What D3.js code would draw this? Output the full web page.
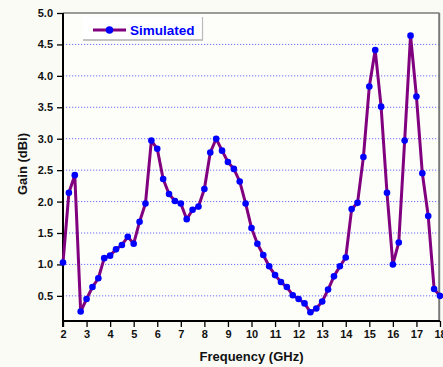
<!DOCTYPE html>
<html>
<head>
<meta charset="utf-8">
<script src="https://cdn.jsdelivr.net/npm/d3@7/dist/d3.min.js"></script>
<style>
  html, body { margin: 0; padding: 0; background: #fbfbf6; }
  svg { display: block; }
  text { font-family: Arial, "Liberation Sans", sans-serif; font-weight: bold; }
</style>
</head>
<body>
<svg id="chart" width="443" height="367"></svg>
<script>
// ---- data ----
const frequency = [2, 2.25, 2.5, 2.75, 3, 3.25, 3.5, 3.75, 4, 4.25, 4.5, 4.75, 5, 5.25, 5.5, 5.75,
  6, 6.25, 6.5, 6.75, 7, 7.25, 7.5, 7.75, 8, 8.25, 8.5, 8.75, 9, 9.25, 9.5, 9.75,
  10, 10.25, 10.5, 10.75, 11, 11.25, 11.5, 11.75, 12, 12.25, 12.5, 12.75, 13, 13.25, 13.5, 13.75,
  14, 14.25, 14.5, 14.75, 15, 15.25, 15.5, 15.75, 16, 16.25, 16.5, 16.75, 17, 17.25, 17.5, 17.75, 18];
const gainSimulated = [1.03, 2.14, 2.42, 0.25, 0.45, 0.64, 0.78, 1.10, 1.14, 1.24, 1.31, 1.44, 1.33, 1.68, 1.97, 2.97,
  2.84, 2.36, 2.12, 2.01, 1.97, 1.72, 1.87, 1.92, 2.20, 2.78, 3.00, 2.81, 2.63, 2.52, 2.32, 1.97,
  1.58, 1.33, 1.15, 0.97, 0.83, 0.72, 0.64, 0.51, 0.45, 0.38, 0.24, 0.30, 0.41, 0.60, 0.81, 0.97,
  1.11, 1.88, 1.98, 2.71, 3.83, 4.41, 3.51, 2.14, 1.00, 1.35, 2.97, 4.64, 3.67, 2.45, 1.77, 0.61, 0.50];
const xTicks = [2, 3, 4, 5, 6, 7, 8, 9, 10, 11, 12, 13, 14, 15, 16, 17, 18];
const yTicks = [0.5, 1.0, 1.5, 2.0, 2.5, 3.0, 3.5, 4.0, 4.5, 5.0];
const gridValues = [0.5, 1.0, 1.5, 2.0, 2.5, 3.0, 3.5, 4.0, 4.5];
const seriesName = "Simulated";
const xTitle = "Frequency (GHz)";
const yTitle = "Gain (dBi)";

// ---- layout ----
const pL = 63, pR = 440, pT = 13, pB = 321;
const svg = d3.select("#chart");

const x = d3.scaleLinear().domain([2, 18]).range([pL, pR]);
const y = d3.scaleLinear().domain([0.1, 5.0]).range([pB, pT]);

// plot background
svg.append("rect").attr("x", pL).attr("y", pT).attr("width", pR - pL).attr("height", pB - pT)
  .attr("fill", "#fdfdf9");

// grid
svg.append("g").selectAll("line").data(gridValues).join("line")
  .attr("x1", pL).attr("x2", pR - 1)
  .attr("y1", d => y(d)).attr("y2", d => y(d))
  .attr("stroke", "#4a4aff").attr("stroke-width", 1)
  .attr("stroke-dasharray", "1.2,1.8").attr("opacity", 0.8);

// frame top/right
svg.append("line").attr("x1", pL).attr("x2", pR - 0.5).attr("y1", pT).attr("y2", pT)
  .attr("stroke", "#7a7a7a").attr("stroke-width", 1.5);
svg.append("line").attr("x1", pR - 0.8).attr("x2", pR - 0.8).attr("y1", pT).attr("y2", pB)
  .attr("stroke", "#7a7a7a").attr("stroke-width", 2);

// axes
const xAxis = d3.axisBottom(x).tickValues(xTicks).tickFormat(d3.format("d")).tickSize(6).tickPadding(3);
const yAxis = d3.axisLeft(y).tickValues(yTicks).tickFormat(d3.format(".1f")).tickSize(6).tickPadding(4);

const gx = svg.append("g").attr("transform", `translate(0,${pB})`).call(xAxis);
const gy = svg.append("g").attr("transform", `translate(${pL},0)`).call(yAxis);
[gx, gy].forEach(g => {
  g.select(".domain").attr("stroke", "#000").attr("stroke-width", 2);
  g.selectAll(".tick line").attr("stroke", "#000").attr("stroke-width", 1.3);
  g.selectAll(".tick text").attr("fill", "#111").style("font-size", "11px")
    .style("font-family", "Arial, 'Liberation Sans', sans-serif").style("font-weight", "bold");
});
gx.select(".domain").attr("d", `M${pL},0H${pR}`);
gy.select(".domain").attr("d", `M0,${pB + 6}V${pT}`);

// line + markers
const line = d3.line().x((d, i) => x(frequency[i])).y(d => y(d));
svg.append("path").datum(gainSimulated).attr("d", line)
  .attr("fill", "none").attr("stroke", "#800080").attr("stroke-width", 3).attr("stroke-linejoin", "round");
svg.append("g").selectAll("circle").data(gainSimulated).join("circle")
  .attr("cx", (d, i) => x(frequency[i])).attr("cy", d => y(d)).attr("r", 3.3)
  .attr("fill", "#0000ff");

// legend
const lg = svg.append("g");
lg.append("rect").attr("x", 83).attr("y", 17).attr("width", 120).attr("height", 23).attr("fill", "#ffffff");
lg.append("line").attr("x1", 83).attr("x2", 203).attr("y1", 40).attr("y2", 40).attr("stroke", "#8a8a8a").attr("stroke-width", 1.2);
lg.append("line").attr("x1", 202.5).attr("x2", 202.5).attr("y1", 17).attr("y2", 40).attr("stroke", "#bbbbbb").attr("stroke-width", 1.2);
lg.append("line").attr("x1", 93).attr("x2", 126).attr("y1", 30).attr("y2", 30).attr("stroke", "#800080").attr("stroke-width", 3);
lg.append("circle").attr("cx", 109.5).attr("cy", 30).attr("r", 3.8).attr("fill", "#0000ff");
lg.append("text").attr("x", 130).attr("y", 35).attr("fill", "#0000ff").style("font-size", "13.5px").text(seriesName);

// titles
svg.append("text").attr("x", (pL + pR) / 2).attr("y", 361).attr("text-anchor", "middle")
  .attr("fill", "#111").style("font-size", "13px").text(xTitle);
svg.append("text").attr("transform", `translate(27,164) rotate(-90)`).attr("text-anchor", "middle")
  .attr("fill", "#111").style("font-size", "13px").text(yTitle);
</script>
</body>
</html>
